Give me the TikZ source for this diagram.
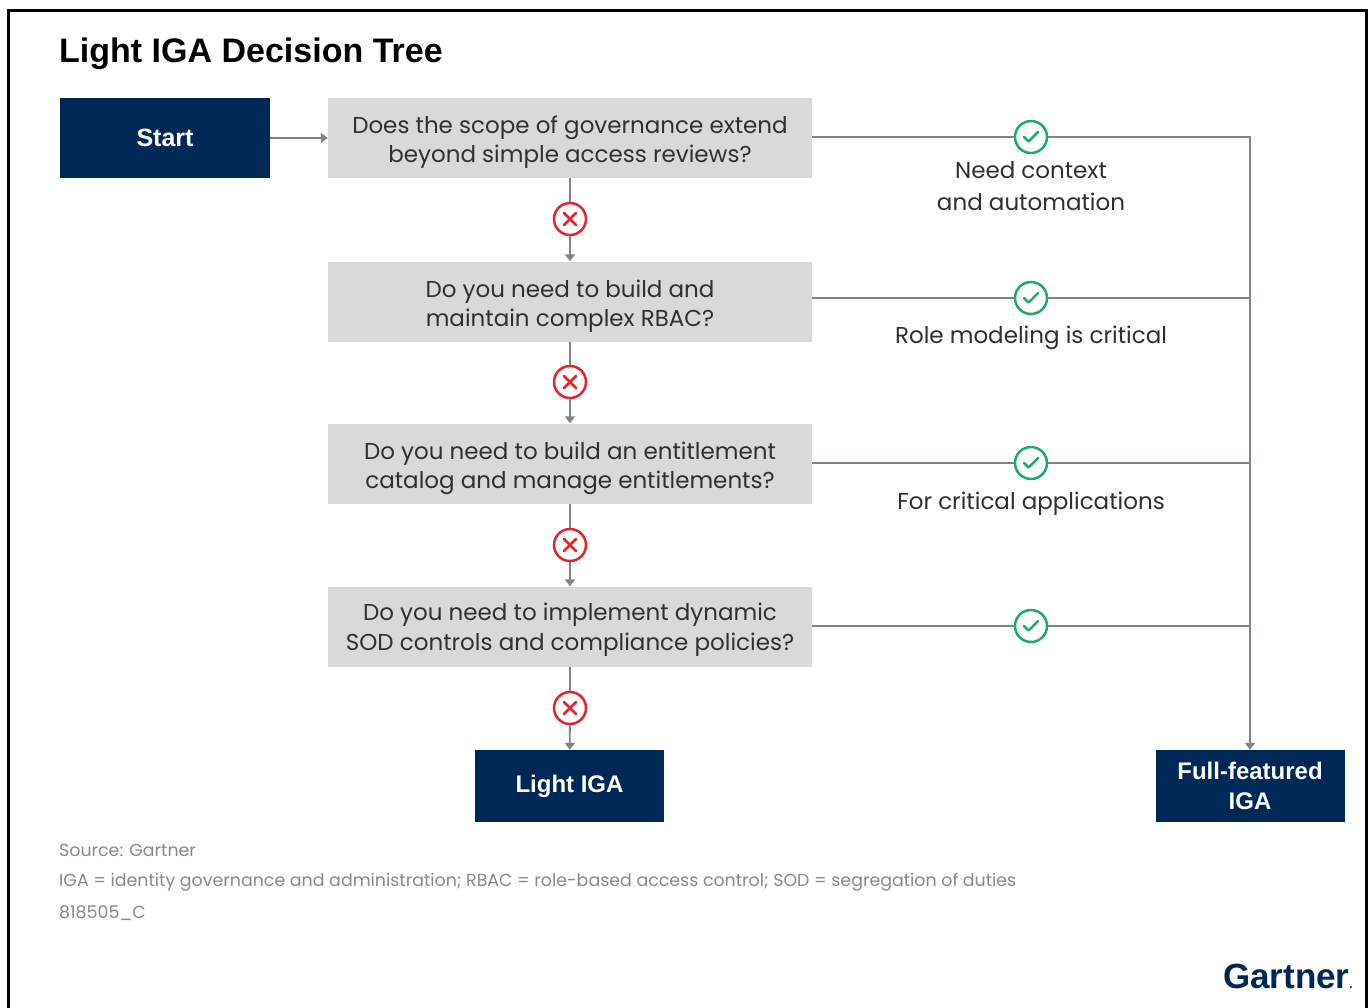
\documentclass[tikz,border=0pt]{standalone}
\usepackage{fontspec}
\setmainfont{Poppins}
\newfontfamily\headfont{Liberation Sans}
\usetikzlibrary{arrows.meta}
\definecolor{navy}{HTML}{002856}
\definecolor{boxgray}{HTML}{D9D9D9}
\definecolor{linegray}{HTML}{7D8786}
\definecolor{xred}{HTML}{E3262B}
\definecolor{okgreen}{HTML}{1DAA6E}
\definecolor{txt}{HTML}{303030}
\definecolor{foot}{HTML}{8A8A8A}
\tikzset{
  navybox/.style={fill=navy, draw=none, text=white, font=\headfont\bfseries\fontsize{24}{28}\selectfont, align=center, inner sep=0pt},
  qbox/.style={fill=boxgray, draw=none, minimum width=484pt, minimum height=80pt, inner sep=0pt},
  qtext/.style={text=txt, anchor=base, align=center, inner sep=0pt, font=\fontsize{23}{29.5}\selectfont},
  conn/.style={draw=linegray, line width=1.8pt},
  arr/.style={conn, -{Triangle[width=10pt,length=7pt]}},
  xmark/.style={circle, draw=xred, line width=2.5pt, fill=white, minimum size=32pt, inner sep=0pt,
    path picture={\draw[xred, line width=2.5pt, line cap=round]
      ([shift={(-6,-6)}]path picture bounding box.center) -- ([shift={(6,6)}]path picture bounding box.center)
      ([shift={(-6,6)}]path picture bounding box.center) -- ([shift={(6,-6)}]path picture bounding box.center);}},
  okmark/.style={circle, draw=okgreen, line width=2.5pt, fill=white, minimum size=32pt, inner sep=0pt,
    path picture={\draw[okgreen, line width=2.5pt, line cap=round, line join=round]
      ([shift={(-7,0)}]path picture bounding box.center) -- ([shift={(-2.5,4.5)}]path picture bounding box.center)
      -- ([shift={(7,-5)}]path picture bounding box.center);}},
  lbl/.style={text=txt, align=center, anchor=base, inner sep=0pt, font=\fontsize{23}{32}\selectfont},
  foottxt/.style={text=foot, anchor=base west, inner sep=0pt, font=\fontsize{17.4}{20}\selectfont},
}
\begin{document}
\begin{tikzpicture}[x=1pt,y=-1pt]
\useasboundingbox (0,0) rectangle (1368,1007);
\fill[white] (0,0) rectangle (1368,1007);
% frame
\draw[line width=3pt, line join=miter] (8.7,1008) -- (8.7,10.5) -- (1366.3,10.5) -- (1366.3,1008);
% title
\node[anchor=base west, inner sep=0pt, text=black, font=\headfont\bfseries\fontsize{34}{40}\selectfont] (title) at (59,62) {Light IGA Decision Tree};
% boxes
\node[navybox, minimum width=210pt, minimum height=80pt, font=\headfont\bfseries\fontsize{25}{28}\selectfont] (start) at (165,138) {Start};
\node[qbox] (q1) at (570,138) {};
\node[qbox] (q2) at (570,301.5) {};
\node[qbox] (q3) at (570,463.5) {};
\node[qbox] (q4) at (570,626.5) {};
\node[qtext] (q1t) at (570,162.5) {Does the scope of governance extend\\beyond simple access reviews?};
\node[qtext] (q2t) at (570,326.5) {Do you need to build and\\maintain complex RBAC?};
\node[qtext] (q3t) at (570,488.5) {Do you need to build an entitlement\\catalog and manage entitlements?};
\node[qtext] (q4t) at (570,650) {Do you need to implement dynamic\\SOD controls and compliance policies?};
\node[navybox, minimum width=189pt, minimum height=72pt] (light) at (569.5,786) {Light IGA};
\node[navybox, minimum width=189pt, minimum height=72pt, font=\headfont\bfseries\fontsize{24}{30}\selectfont] (full) at (1250,786) {Full-featured\\IGA};
% no marks
\node[xmark] (x1) at (570,219) {};
\node[xmark] (x2) at (570,382) {};
\node[xmark] (x3) at (570,545) {};
\node[xmark] (x4) at (570,708) {};
% yes marks
\node[okmark] (c1) at (1031,137) {};
\node[okmark] (c2) at (1031,298) {};
\node[okmark] (c3) at (1031,463) {};
\node[okmark] (c4) at (1031,626) {};
% junction coordinates
\coordinate (j1) at (1250,137);
\coordinate (j2) at (1250,298);
\coordinate (j3) at (1250,463);
\coordinate (j4) at (1250,626);
% connectors
\draw[arr] (start) -- (q1);
\draw[conn] (q1) -- (x1); \draw[arr] (x1) -- (q2);
\draw[conn] (q2) -- (x2); \draw[arr] (x2) -- (q3);
\draw[conn] (q3) -- (x3); \draw[arr] (x3) -- (q4);
\draw[conn] (q4) -- (x4); \draw[arr] (x4) -- (light);
\draw[conn] (q1.east |- c1) -- (c1); \draw[conn] (c1) -- (j1);
\draw[conn] (q2.east |- c2) -- (c2); \draw[conn] (c2) -- (j2);
\draw[conn] (q3.east |- c3) -- (c3); \draw[conn] (c3) -- (j3);
\draw[conn] (q4.east |- c4) -- (c4); \draw[conn] (c4) -- (j4);
\draw[arr] ([yshift=0.9pt]j1) -- (full);
% labels
\node[lbl] (l1) at (1031,210) {Need context\\and automation};
\node[lbl] (l2) at (1031,343) {Role modeling is critical};
\node[lbl] (l3) at (1031,509) {For critical applications};
% footer
\node[foottxt] (f1) at (59,856) {Source: Gartner};
\node[foottxt] (f2) at (59,886) {IGA = identity governance and administration; RBAC = role-based access control; SOD = segregation of duties};
\node[foottxt] (f3) at (59,918) {818505\_C};
% logo
\node[anchor=base east, inner sep=0pt, text=navy, font=\headfont\bfseries\fontsize{35}{40}\selectfont] (logo) at (1353,988) {Gartner{\fontsize{12}{12}\selectfont.}};
\end{tikzpicture}
\end{document}
